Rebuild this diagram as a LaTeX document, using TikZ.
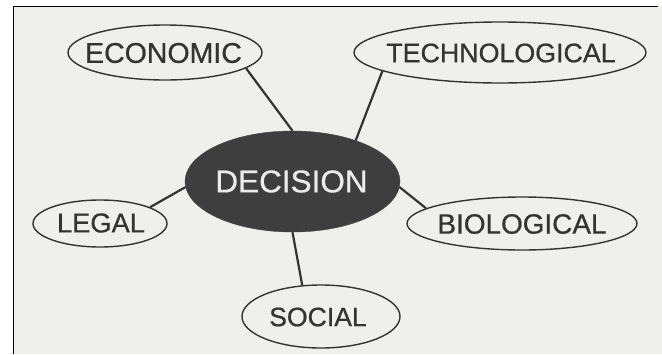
\documentclass[tikz,border=0pt]{standalone}
\usepackage{fontspec}
\setmainfont{Liberation Sans}[FakeBold=0.6,BoldFont=Liberation Sans]
\usetikzlibrary{shapes.geometric}
\definecolor{bgc}{HTML}{EFEFEC}
\definecolor{ink}{HTML}{333333}
\definecolor{darkfill}{HTML}{3E3E3E}
\definecolor{lighttext}{HTML}{ECECEC}
\newcommand{\fsz}[1]{\fontsize{#1}{#1}\selectfont\bfseries}
\begin{document}
\begin{tikzpicture}[x=1pt,y=-1pt,
  oval/.style={ellipse,draw=ink,line width=1.4pt,inner sep=0pt},
  lbl/.style={text=ink,inner sep=0pt},
  link/.style={draw=ink,line width=2.2pt}]
\useasboundingbox (0,0) rectangle (662,354);
\fill[white] (0,0) rectangle (662,354);
\fill[bgc] (13,6) rectangle (662,354);
\draw[black,line width=1pt] (13,354) -- (13,6) -- (658,6);
% ellipses
\node[oval,minimum width=194pt,minimum height=55pt] (eco) at (165,52.5) {};
\node[oval,minimum width=292pt,minimum height=61pt] (tech) at (500,52.5) {};
\node[ellipse,fill=darkfill,draw=darkfill,inner sep=0pt,minimum width=215pt,minimum height=101pt] (dec) at (292.5,181.5) {};
\node[oval,minimum width=134pt,minimum height=47pt] (legal) at (100,223.5) {};
\node[oval,minimum width=158pt,minimum height=63pt] (soc) at (321,316.5) {};
\node[oval,minimum width=230pt,minimum height=53pt] (bio) at (522,223.5) {};
% texts
\node[lbl,font=\fsz{28.5}] (ecot) at (163.5,53) {ECONOMIC};
\node[lbl,font=\fsz{26.8}] (techt) at (501,53) {TECHNOLOGICAL};
\node[lbl,text=lighttext,font=\fsz{31.5}] (dect) at (291.5,181.5) {DECISION};
\node[lbl,font=\fsz{27.3}] (legalt) at (101,223) {LEGAL};
\node[lbl,font=\fsz{26.6}] (soct) at (318,317) {SOCIAL};
\node[lbl,font=\fsz{27.9}] (biot) at (522,224) {BIOLOGICAL};
% connectors
\draw[link] (eco.-11) -- (dec.90);
\draw[link] (tech.189.5) -- (dec.33);
\draw[link] (legal.18) -- (dec.183);
\draw[link] (dec.270) -- (soc.121);
\draw[link] (dec.-3) -- (bio.171);
\end{tikzpicture}
\end{document}
